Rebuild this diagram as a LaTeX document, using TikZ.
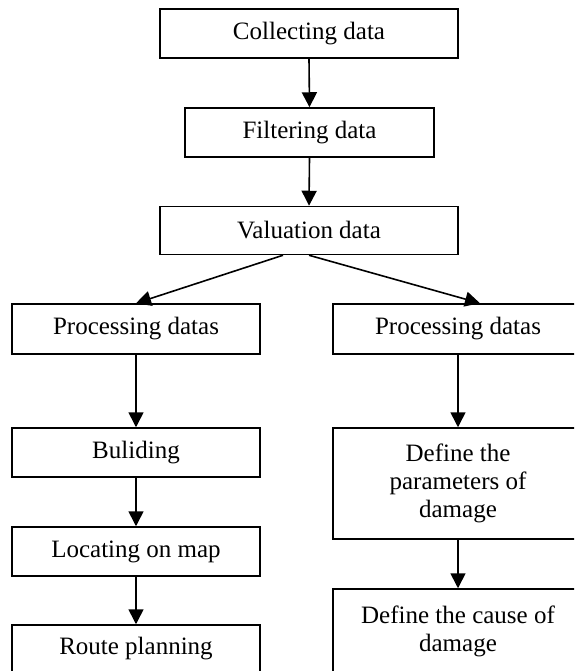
\documentclass[tikz,border=0pt]{standalone}
\usepackage{fontspec}
\setmainfont{Liberation Serif}
\usetikzlibrary{arrows.meta}
\begin{document}
\begin{tikzpicture}[x=1pt,y=-1pt,
  box/.style={draw=black,line width=1.5pt,rectangle,inner sep=0pt,align=center,
    font=\fontsize{25}{28}\selectfont},
  conn/.style={line width=1.6pt,-{Triangle[length=15pt,width=15pt]}}]
\clip (0,0) rectangle (574,671);
\node[box,minimum width=298pt,minimum height=49pt] (c1) at (309,33.5) {Collecting data};
\node[box,minimum width=249pt,minimum height=49pt] (c2) at (309.5,132.5) {Filtering data};
\node[box,minimum width=298pt,minimum height=48pt] (c3) at (309,230.5) {Valuation data};
\node[box,minimum width=248pt,minimum height=50pt] (l1) at (136,329) {Processing datas};
\node[box,minimum width=250pt,minimum height=50pt] (r1) at (458,329) {Processing datas};
\node[box,minimum width=248pt,minimum height=49pt] (l2) at (136,452.5) {Buliding};
\node[box,minimum width=248pt,minimum height=49pt] (l3) at (136,551.5) {Locating on map};
\node[box,minimum width=248pt,minimum height=48pt] (l4) at (136,649) {Route planning};
\node[box,minimum width=250pt,minimum height=111pt] (r2) at (458,483.5) {Define the\\parameters of\\damage};
\node[box,minimum width=250pt,minimum height=84pt] (r3) at (458,631) {Define the cause of\\damage};
\draw[conn] (c1.south) -- (c2.north);
\draw[conn] (c2.south) -- (c3.north);
\draw[conn] ([xshift=-26pt]c3.south) -- (l1.north);
\draw[conn] (c3.south) -- ([xshift=22pt]r1.north);
\draw[conn] (l1.south) -- (l2.north);
\draw[conn] (l2.south) -- (l3.north);
\draw[conn] (l3.south) -- (l4.north);
\draw[conn] (r1.south) -- (r2.north);
\draw[conn] (r2.south) -- (r3.north);
\end{tikzpicture}
\end{document}
